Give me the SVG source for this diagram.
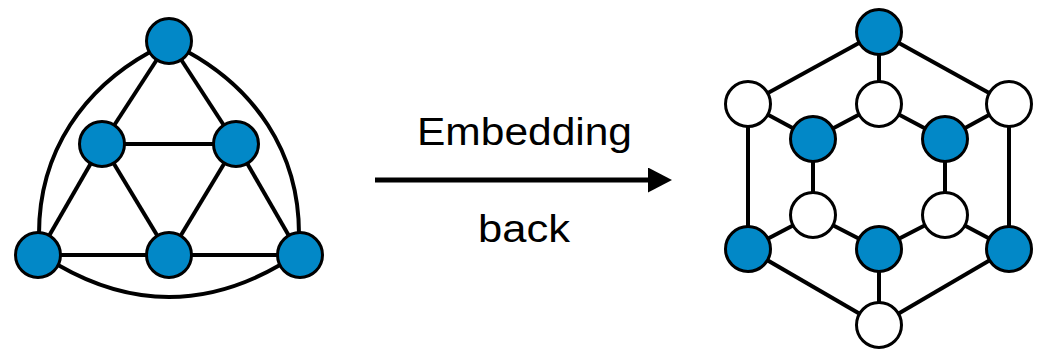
<svg xmlns="http://www.w3.org/2000/svg" width="1040" height="349" viewBox="0 0 1040 349">
<style>
.e{stroke:#000;stroke-width:4;fill:none}
.b{fill:#0288c7;stroke:#000;stroke-width:3}
.w{fill:#fff;stroke:#000;stroke-width:3}
.t{font-family:"Liberation Sans",Arial,Helvetica,sans-serif;font-size:38px;fill:#000;text-anchor:middle}
</style>
<defs>
<marker id="ah" markerWidth="24" markerHeight="25" refX="0" refY="12.5" orient="auto" markerUnits="userSpaceOnUse">
<path d="M0,0 L24,12.5 L0,25 Z" fill="#000"/>
</marker>
</defs>
<g id="connectors">
<g id="left-edges">
<line class="e" x1="169" y1="41" x2="102" y2="144"/>
<line class="e" x1="169" y1="41" x2="236" y2="144"/>
<line class="e" x1="102" y1="144" x2="236" y2="144"/>
<line class="e" x1="102" y1="144" x2="38" y2="255"/>
<line class="e" x1="102" y1="144" x2="169" y2="255"/>
<line class="e" x1="236" y1="144" x2="169" y2="255"/>
<line class="e" x1="236" y1="144" x2="300" y2="255"/>
<line class="e" x1="38" y1="255" x2="300" y2="255"/>
<path class="e" d="M150,52 C85,88 39,150 39,234"/>
<path class="e" d="M188,52 C253,88 299,150 299,234"/>
<path class="e" d="M58,265 Q169,329 280,265"/>
</g>
<g id="arrow">
<line x1="375" y1="180" x2="648" y2="180" stroke="#000" stroke-width="5" marker-end="url(#ah)"/>
</g>
<g id="right-edges">
<line class="e" x1="879" y1="32" x2="748" y2="104"/>
<line class="e" x1="879" y1="32" x2="879" y2="104"/>
<line class="e" x1="879" y1="32" x2="1009" y2="104"/>
<line class="e" x1="748" y1="104" x2="813" y2="139"/>
<line class="e" x1="748" y1="104" x2="748" y2="249"/>
<line class="e" x1="879" y1="104" x2="813" y2="139"/>
<line class="e" x1="879" y1="104" x2="945" y2="139"/>
<line class="e" x1="1009" y1="104" x2="945" y2="139"/>
<line class="e" x1="1009" y1="104" x2="1009" y2="249"/>
<line class="e" x1="813" y1="139" x2="813" y2="215"/>
<line class="e" x1="945" y1="139" x2="945" y2="215"/>
<line class="e" x1="813" y1="215" x2="748" y2="249"/>
<line class="e" x1="813" y1="215" x2="879" y2="249"/>
<line class="e" x1="945" y1="215" x2="879" y2="249"/>
<line class="e" x1="945" y1="215" x2="1009" y2="249"/>
<line class="e" x1="748" y1="249" x2="879" y2="325"/>
<line class="e" x1="879" y1="249" x2="879" y2="325"/>
<line class="e" x1="1009" y1="249" x2="879" y2="325"/>
</g>
</g>
<g id="L-top"><circle class="b" cx="169" cy="41" r="22.5"/></g>
<g id="L-midleft"><circle class="b" cx="102" cy="144" r="22.5"/></g>
<g id="L-midright"><circle class="b" cx="236" cy="144" r="22.5"/></g>
<g id="L-botleft"><circle class="b" cx="38" cy="255" r="22.5"/></g>
<g id="L-botmid"><circle class="b" cx="169" cy="255" r="22.5"/></g>
<g id="L-botright"><circle class="b" cx="300" cy="255" r="22.5"/></g>
<g id="label-embedding"><text class="t" x="524.5" y="145" textLength="215" lengthAdjust="spacingAndGlyphs">Embedding</text></g>
<g id="label-back"><text class="t" x="524" y="242" textLength="92" lengthAdjust="spacingAndGlyphs">back</text></g>
<g id="R-top"><circle class="b" cx="879" cy="32" r="22.5"/></g>
<g id="R-w-ul"><circle class="w" cx="748" cy="104" r="22.5"/></g>
<g id="R-w-um"><circle class="w" cx="879" cy="104" r="22.5"/></g>
<g id="R-w-ur"><circle class="w" cx="1009" cy="104" r="22.5"/></g>
<g id="R-b-il"><circle class="b" cx="813" cy="139" r="22.5"/></g>
<g id="R-b-ir"><circle class="b" cx="945" cy="139" r="22.5"/></g>
<g id="R-w-il"><circle class="w" cx="813" cy="215" r="22.5"/></g>
<g id="R-w-ir"><circle class="w" cx="945" cy="215" r="22.5"/></g>
<g id="R-b-bl"><circle class="b" cx="748" cy="249" r="22.5"/></g>
<g id="R-b-bm"><circle class="b" cx="879" cy="249" r="22.5"/></g>
<g id="R-b-br"><circle class="b" cx="1009" cy="249" r="22.5"/></g>
<g id="R-w-bot"><circle class="w" cx="879" cy="325" r="22.5"/></g>
</svg>
